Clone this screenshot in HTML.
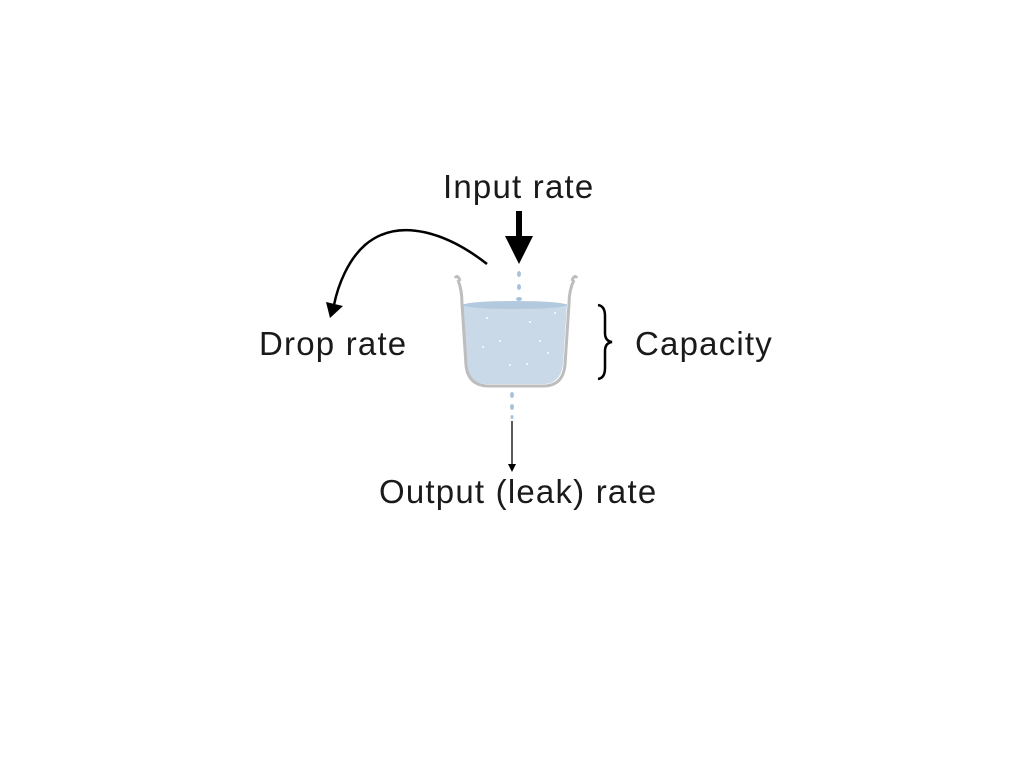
<!DOCTYPE html>
<html><head><style>
body{margin:0;width:1024px;height:768px;background:#fff;position:relative;overflow:hidden;font-family:"Liberation Sans",sans-serif;}
.t{position:absolute;font-size:33px;color:#1a1a1a;white-space:nowrap;line-height:1;letter-spacing:1.2px;}
</style></head><body>
<div class="t" style="left:443px;top:170px;">Input rate</div>
<div class="t" style="left:259px;top:327px;">Drop rate</div>
<div class="t" style="left:635px;top:327px;">Capacity</div>
<div class="t" style="left:379px;top:475px;">Output (leak) rate</div>
<svg width="1024" height="768" style="position:absolute;left:0;top:0">
<line x1="519" y1="211" x2="519" y2="240" stroke="#000" stroke-width="6"/>
<polygon points="505,236 533,236 519,264" fill="#000"/>
<path d="M487,264 C450,235 400,215 365,245 C348,260 338,285 334,305" fill="none" stroke="#000" stroke-width="2.5"/>
<polygon points="326,302 343,306 330,318" fill="#000"/>
<line x1="512" y1="421" x2="512" y2="466" stroke="#000" stroke-width="1.3"/>
<polygon points="508,464 516,464 512,472" fill="#000"/>
<path d="M598,305 Q605,306 605,316 L605,333 Q605,341 612,342 Q605,343 605,351 L605,368 Q605,378 598,379" fill="none" stroke="#000" stroke-width="2.5"/>
<path d="M463,304 L567,304 L563,365 Q560,383 545,384 L485,384 Q468,383 466,365 Z" fill="#c9d9e8"/>
<ellipse cx="515" cy="305" rx="52" ry="4" fill="#b3c9dd"/>
<path d="M458,280 Q462,290 462,304 L466,365 Q468,385 487,386 L545,386 Q563,385 565,365 L569,304 Q569,290 574,280" fill="none" stroke="#bdbdbd" stroke-width="3"/>
<path d="M455,278 Q458,274 460,281" fill="none" stroke="#bdbdbd" stroke-width="3"/>
<path d="M572,281 Q574,274 577,278" fill="none" stroke="#bdbdbd" stroke-width="3"/>
<g fill="#a9c2dc">
<ellipse cx="519" cy="274" rx="2" ry="3"/>
<ellipse cx="519" cy="287" rx="2" ry="3"/>
<ellipse cx="519" cy="299" rx="3" ry="2"/>
<ellipse cx="512" cy="395" rx="2" ry="3"/>
<ellipse cx="512" cy="407" rx="2" ry="3"/>
<ellipse cx="512" cy="417" rx="1.5" ry="2"/>
</g>
<g fill="#fff">
<circle cx="487" cy="318" r="1"/><circle cx="555" cy="313" r="1"/><circle cx="530" cy="322" r="1"/>
<circle cx="500" cy="341" r="1"/><circle cx="540" cy="341" r="1"/><circle cx="483" cy="347" r="1"/>
<circle cx="548" cy="353" r="1"/><circle cx="510" cy="365" r="1"/><circle cx="527" cy="364" r="1"/>
</g>
</svg>
</body></html>
